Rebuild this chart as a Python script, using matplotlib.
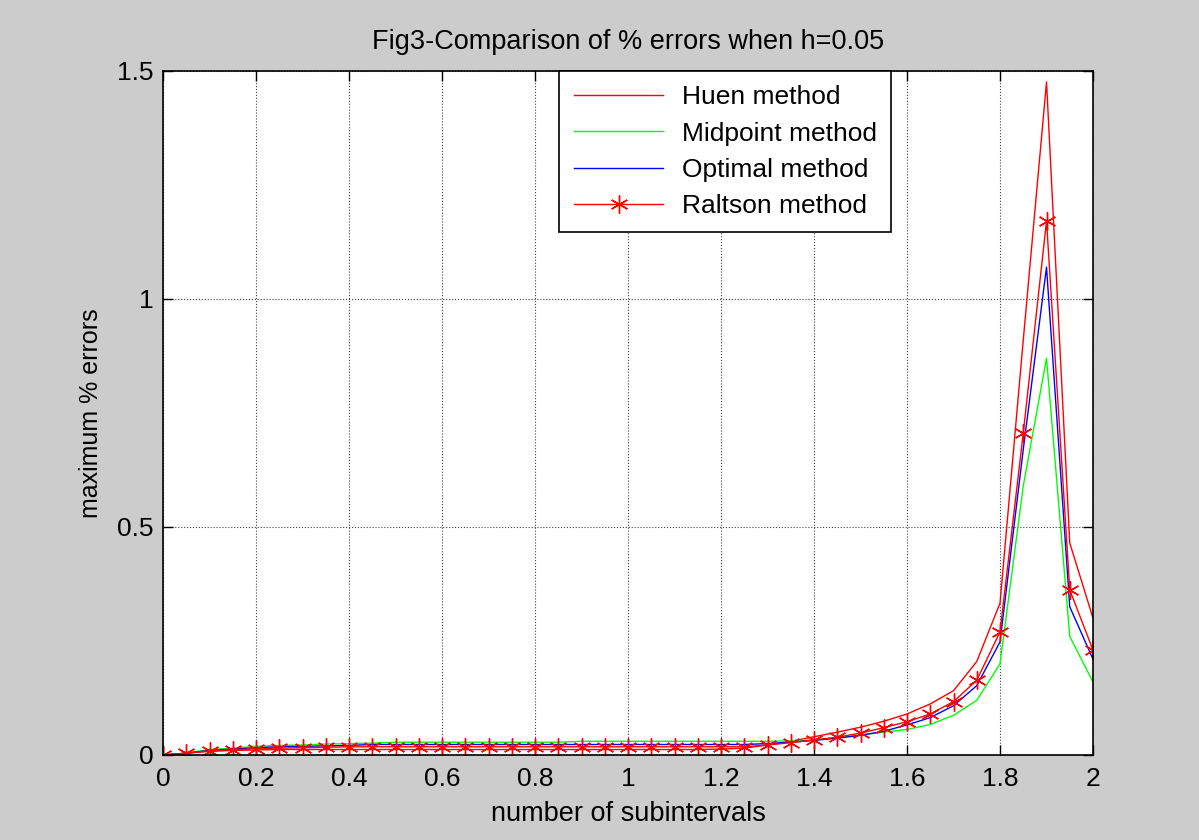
import matplotlib.pyplot as plt
import numpy as np

# ---data---
x = [0.0, 0.05, 0.1, 0.15, 0.2, 0.25, 0.3, 0.35, 0.4, 0.45,
     0.5, 0.55, 0.6, 0.65, 0.7, 0.75, 0.8, 0.85, 0.9, 0.95,
     1.0, 1.05, 1.1, 1.15, 1.2, 1.25, 1.3, 1.35, 1.4, 1.45,
     1.5, 1.55, 1.6, 1.65, 1.7, 1.75, 1.8, 1.85, 1.9, 1.95, 2.0]

huen = [0.0, 0.004, 0.008, 0.010, 0.011, 0.012, 0.012, 0.012, 0.012, 0.012,
        0.012, 0.012, 0.012, 0.012, 0.012, 0.012, 0.012, 0.012, 0.012, 0.012,
        0.012, 0.012, 0.012, 0.012, 0.013, 0.015, 0.022, 0.030, 0.040, 0.050,
        0.061, 0.074, 0.090, 0.112, 0.141, 0.205, 0.333, 0.91, 1.476, 0.465, 0.30]

midpoint = [0.0, 0.004, 0.012, 0.015, 0.019, 0.021, 0.022, 0.024, 0.025, 0.026,
            0.028, 0.028, 0.028, 0.028, 0.028, 0.028, 0.028, 0.028, 0.030, 0.030,
            0.030, 0.030, 0.030, 0.030, 0.030, 0.030, 0.030, 0.031, 0.033, 0.038,
            0.044, 0.050, 0.056, 0.067, 0.087, 0.120, 0.200, 0.59, 0.87, 0.26, 0.16]

optimal = [0.0, 0.004, 0.010, 0.013, 0.016, 0.018, 0.019, 0.020, 0.021, 0.023,
           0.023, 0.023, 0.023, 0.023, 0.023, 0.023, 0.023, 0.023, 0.023, 0.023,
           0.023, 0.023, 0.023, 0.023, 0.023, 0.023, 0.025, 0.028, 0.032, 0.037,
           0.043, 0.052, 0.066, 0.082, 0.108, 0.152, 0.248, 0.67, 1.07, 0.325, 0.21]

raltson = [0.0, 0.004, 0.009, 0.011, 0.014, 0.015, 0.016, 0.017, 0.018, 0.018,
           0.018, 0.018, 0.018, 0.018, 0.018, 0.018, 0.018, 0.018, 0.018, 0.018,
           0.018, 0.018, 0.018, 0.018, 0.018, 0.018, 0.022, 0.027, 0.033, 0.039,
           0.048, 0.060, 0.073, 0.090, 0.117, 0.164, 0.270, 0.706, 1.171, 0.362, 0.23]

xticks = [0, 0.2, 0.4, 0.6, 0.8, 1, 1.2, 1.4, 1.6, 1.8, 2]
xticklabels = ['0', '0.2', '0.4', '0.6', '0.8', '1', '1.2', '1.4', '1.6', '1.8', '2']
yticks = [0, 0.5, 1, 1.5]
yticklabels = ['0', '0.5', '1', '1.5']

plt.rcParams['font.family'] = ['Liberation Sans', 'DejaVu Sans']

fig = plt.figure(figsize=(11.99, 8.40), dpi=100, facecolor='#cccccc')
ax = fig.add_axes([0.136, 0.1012, 0.7756, 0.8143])
ax.set_facecolor('white')

ax.plot(x, huen, color='red', lw=1, label='Huen method')
ax.plot(x, midpoint, color='#00ff00', lw=1, label='Midpoint method')
ax.plot(x, optimal, color='blue', lw=1, label='Optimal method')
ax.plot(x, raltson, color='red', lw=1, marker=(6, 2, 0), markersize=13,
        markeredgewidth=1, label='Raltson method')

ax.set_xlim(0, 2)
ax.set_ylim(0, 1.5)
ax.set_xticks(xticks)
ax.set_xticklabels(xticklabels)
ax.set_yticks(yticks)
ax.set_yticklabels(yticklabels)
ax.tick_params(direction='in', length=7, width=1, top=True, right=True,
               labelsize=19, pad=9, colors='black')
ax.tick_params(axis='y', pad=7)
ax.grid(True, color='0.25', linestyle=':', linewidth=0.8)
for s in ax.spines.values():
    s.set_linewidth(1.2)

ax.set_title('Fig3-Comparison of % errors when h=0.05', fontsize=19.5, pad=16)
ax.set_xlabel('number of subintervals', fontsize=19.5, labelpad=7)
ax.set_ylabel('maximum % errors', fontsize=18, labelpad=10)

leg = ax.legend(loc='upper left', bbox_to_anchor=(0.426, 1.0), fontsize=19,
                handlelength=3.4, handletextpad=0.7, labelspacing=0.46,
                borderpad=0.55, borderaxespad=0, fancybox=False, framealpha=1,
                edgecolor='black')
leg.get_frame().set_linewidth(1.2)

plt.savefig('out.png', dpi=100, facecolor=fig.get_facecolor())
